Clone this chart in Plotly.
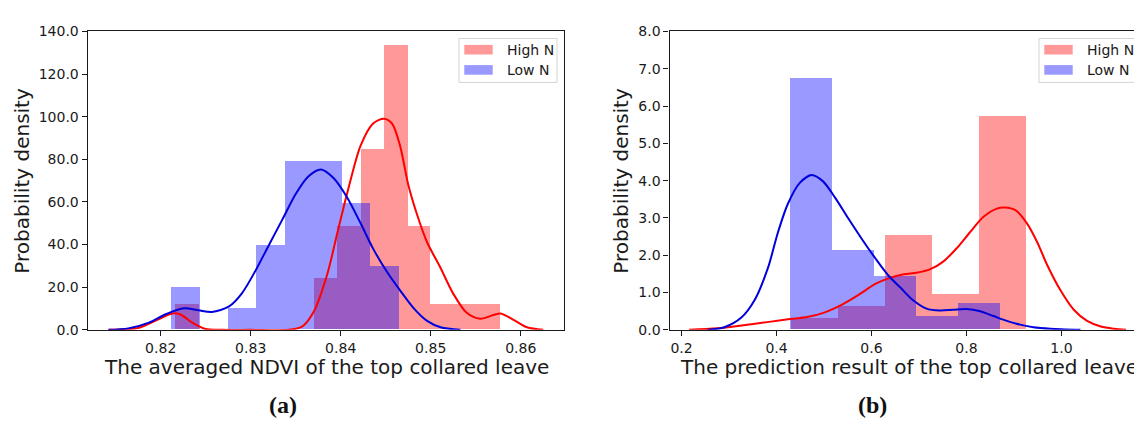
import plotly.graph_objects as go

# ---- histogram data (density) -------------------------------------------
# (a) averaged NDVI of the top collared leave
ndvi_high_edges = [0.8216, 0.8242, 0.8268, 0.8293, 0.8319, 0.8345, 0.8370, 0.8396,
                   0.8422, 0.8448, 0.8474, 0.8499, 0.8525, 0.8551, 0.8577]
ndvi_high_density = [12.1, 0, 0, 0, 0, 0, 24.3, 48.6, 84.5, 133.4, 48.6, 12.1, 12.1, 12.1]
ndvi_low_edges = [0.8211, 0.8243, 0.8274, 0.8306, 0.8338, 0.8369, 0.8401, 0.8432, 0.8464]
ndvi_low_density = [19.8, 0, 9.9, 39.6, 79.2, 79.2, 59.4, 29.7]

# (b) prediction result of the top collared leave
pred_high_edges = [0.430, 0.529, 0.628, 0.726, 0.825, 0.924]
pred_high_density = [0.31, 0.63, 2.54, 0.95, 5.71]
pred_low_edges = [0.428, 0.516, 0.604, 0.692, 0.781, 0.869]
pred_low_density = [6.74, 2.13, 1.42, 0.35, 0.70]

# ---- kernel density curves ------------------------------------------------
ndvi_high_kde_x = [0.8142, 0.8176, 0.8194, 0.8213, 0.8222, 0.8235, 0.8250, 0.8268, 0.8300,
                   0.8342, 0.8357, 0.8370, 0.8385, 0.8396, 0.8407, 0.8422, 0.8436, 0.8448,
                   0.8457, 0.8466, 0.8475, 0.8485, 0.8496, 0.8511, 0.8525, 0.8540, 0.8555,
                   0.8577, 0.8592, 0.8607, 0.8625]
ndvi_high_kde_y = [0, 1.0, 4.2, 7.7, 7.2, 3.4, 0.4, 0.0, 0.0,
                   0.0, 1.5, 8.5, 26.0, 45.0, 63.7, 86.3, 96.8, 99.0,
                   96.8, 86.3, 68.2, 53.9, 41.1, 29.0, 17.0, 8.0, 5.2,
                   7.7, 4.7, 1.2, 0]
ndvi_low_kde_x = [0.8142, 0.8164, 0.8187, 0.8205, 0.8226, 0.8242, 0.8257, 0.8276, 0.8290,
                  0.8305, 0.8320, 0.8335, 0.8350, 0.8364, 0.8378, 0.8392, 0.8407, 0.8422,
                  0.8436, 0.8451, 0.8466, 0.8481, 0.8496, 0.8511, 0.8533]
ndvi_low_kde_y = [0, 0.7, 3.4, 7.2, 10.1, 9.2, 8.4, 11.0, 17.0,
                  27.5, 39.6, 51.6, 63.7, 71.9, 75.2, 71.2, 62.2, 50.1,
                  38.1, 27.5, 18.5, 10.2, 4.2, 1.2, 0]

pred_high_kde_x = [0.216, 0.276, 0.347, 0.417, 0.467, 0.502, 0.537, 0.572, 0.608, 0.636,
                   0.668, 0.695, 0.723, 0.751, 0.779, 0.807, 0.836, 0.864, 0.881, 0.903,
                   0.927, 0.949, 0.970, 0.998, 1.026, 1.054, 1.083, 1.111, 1.136]
pred_high_kde_y = [0.0, 0.04, 0.15, 0.27, 0.35, 0.47, 0.67, 0.93, 1.23, 1.38,
                   1.49, 1.53, 1.62, 1.83, 2.18, 2.61, 3.03, 3.25, 3.28, 3.21,
                   2.86, 2.35, 1.74, 1.06, 0.54, 0.24, 0.09, 0.03, 0]
pred_low_kde_x = [0.255, 0.290, 0.326, 0.354, 0.382, 0.403, 0.424, 0.449, 0.474, 0.498,
                  0.523, 0.551, 0.580, 0.608, 0.636, 0.662, 0.687, 0.716, 0.744, 0.772,
                  0.800, 0.829, 0.857, 0.885, 0.913, 0.941, 0.977, 1.040]
pred_low_kde_y = [0, 0.07, 0.33, 0.80, 1.66, 2.61, 3.38, 3.94, 4.15, 3.98,
                  3.55, 2.99, 2.43, 1.92, 1.45, 1.12, 0.80, 0.57, 0.52, 0.54,
                  0.56, 0.50, 0.37, 0.24, 0.14, 0.07, 0.03, 0]

series_names = ["High N", "Low N"]
panel_labels = ["(a)", "(b)"]
x_titles = ["The averaged NDVI of the top collared leave",
            "The prediction result of the top collared leave"]
y_title = "Probability density"

# ---- styling ---------------------------------------------------------------
W, H = 1134, 430
RED_BAR = "rgba(255,0,0,0.4)"
BLUE_BAR = "rgba(0,0,255,0.4)"
RED_LINE = "#ff0000"
BLUE_LINE = "#0000dd"
INK = "#1a1a1a"
FONT = "DejaVu Sans"


def fx(p):
    return p / W


def fy(p):
    return 1 - p / H


def hist(edges, dens, color, name, xa, ya):
    centers = [(a + b) / 2 for a, b in zip(edges[:-1], edges[1:])]
    widths = [b - a for a, b in zip(edges[:-1], edges[1:])]
    return go.Bar(x=centers, y=dens, width=widths, name=name,
                  marker=dict(color=color, line=dict(width=0)),
                  xaxis=xa, yaxis=ya, showlegend=False, hoverinfo="x+y")


def kde(xs, ys, color, name, xa, ya):
    return go.Scatter(x=xs, y=ys, mode="lines", name=name,
                      line=dict(color=color, width=2, shape="spline", smoothing=0.8),
                      xaxis=xa, yaxis=ya, showlegend=False)


fig = go.Figure()
fig.add_trace(hist(ndvi_high_edges, ndvi_high_density, RED_BAR, series_names[0], "x", "y"))
fig.add_trace(hist(ndvi_low_edges, ndvi_low_density, BLUE_BAR, series_names[1], "x", "y"))
fig.add_trace(kde(ndvi_high_kde_x, ndvi_high_kde_y, RED_LINE, series_names[0], "x", "y"))
fig.add_trace(kde(ndvi_low_kde_x, ndvi_low_kde_y, BLUE_LINE, series_names[1], "x", "y"))
fig.add_trace(hist(pred_high_edges, pred_high_density, RED_BAR, series_names[0], "x2", "y2"))
fig.add_trace(hist(pred_low_edges, pred_low_density, BLUE_BAR, series_names[1], "x2", "y2"))
fig.add_trace(kde(pred_high_kde_x, pred_high_kde_y, RED_LINE, series_names[0], "x2", "y2"))
fig.add_trace(kde(pred_low_kde_x, pred_low_kde_y, BLUE_LINE, series_names[1], "x2", "y2"))

axis_common = dict(showgrid=False, zeroline=False, showline=True, linecolor=INK,
                   linewidth=1.3, ticks="outside", ticklen=5, tickwidth=1.2,
                   tickcolor=INK, tickfont=dict(family=FONT, size=14, color=INK))

y_dom = [fy(334.3), fy(24.3)]
fig.update_layout(
    width=W, height=H, margin=dict(l=0, r=0, t=0, b=0),
    paper_bgcolor="white", plot_bgcolor="white",
    barmode="overlay", bargap=0, showlegend=False,
    xaxis=dict(domain=[fx(87.7), fx(564)], range=[0.81189, 0.86481], mirror=True,
               tickvals=[0.82, 0.83, 0.84, 0.85, 0.86], tickformat=".2f", anchor="y",
               **axis_common),
    yaxis=dict(domain=y_dom, range=[0, 140], dtick=20, tickformat=".1f", mirror=True,
               anchor="x", **axis_common),
    xaxis2=dict(domain=[fx(669.5), 1.0], range=[0.1747, 1.1528], mirror=True,
                tickvals=[0.2, 0.4, 0.6, 0.8, 1.0], tickformat=".1f", anchor="y2",
                **axis_common),
    yaxis2=dict(domain=y_dom, range=[0, 8], dtick=1, tickformat=".1f", mirror=False,
                anchor="x2", **axis_common),
)

shapes = []
annotations = []

# legend boxes drawn inside each panel
for x0 in (459, 1039):
    shapes.append(dict(type="rect", xref="paper", yref="paper",
                       x0=fx(x0), x1=fx(x0 + 98), y0=fy(77.3), y1=fy(31.7),
                       line=dict(color="#d4d4d4", width=1), fillcolor="rgba(255,255,255,0.8)",
                       layer="above"))
    for i, (name, col) in enumerate(zip(series_names, (RED_BAR, BLUE_BAR))):
        top = 38.3 + i * 21
        shapes.append(dict(type="rect", xref="paper", yref="paper",
                           x0=fx(x0 + 5.3), x1=fx(x0 + 33.7), y0=fy(top + 10), y1=fy(top),
                           line=dict(width=0), fillcolor=col, layer="above"))
        annotations.append(dict(text=name, xref="paper", yref="paper",
                                x=fx(x0 + 45.5), y=fy(top + 5), xanchor="left",
                                yanchor="middle", showarrow=False,
                                font=dict(family=FONT, size=14, color=INK)))

# axis titles
annotations.append(dict(text=x_titles[0], xref="paper", yref="paper", x=fx(326),
                        y=fy(373), xanchor="center", yanchor="middle", showarrow=False,
                        font=dict(family=FONT, size=20, color=INK)))
annotations.append(dict(text=x_titles[1], xref="paper", yref="paper", x=fx(678),
                        y=fy(373), xanchor="left", yanchor="middle", showarrow=False,
                        font=dict(family=FONT, size=20, color=INK)))
for xc in (22, 621):
    annotations.append(dict(text=y_title, xref="paper", yref="paper", x=fx(xc),
                            y=fy(179.3), xanchor="center", yanchor="middle",
                            textangle=-90, showarrow=False,
                            font=dict(family=FONT, size=20, color=INK)))

# panel labels
for label, xc in zip(panel_labels, (283, 872)):
    annotations.append(dict(text="<b>%s</b>" % label, xref="paper", yref="paper",
                            x=fx(xc), y=fy(412), xanchor="center", yanchor="middle",
                            showarrow=False,
                            font=dict(family="Liberation Serif", size=24, color="#111111")))

fig.update_layout(shapes=shapes, annotations=annotations)
fig.write_html("out.html")
